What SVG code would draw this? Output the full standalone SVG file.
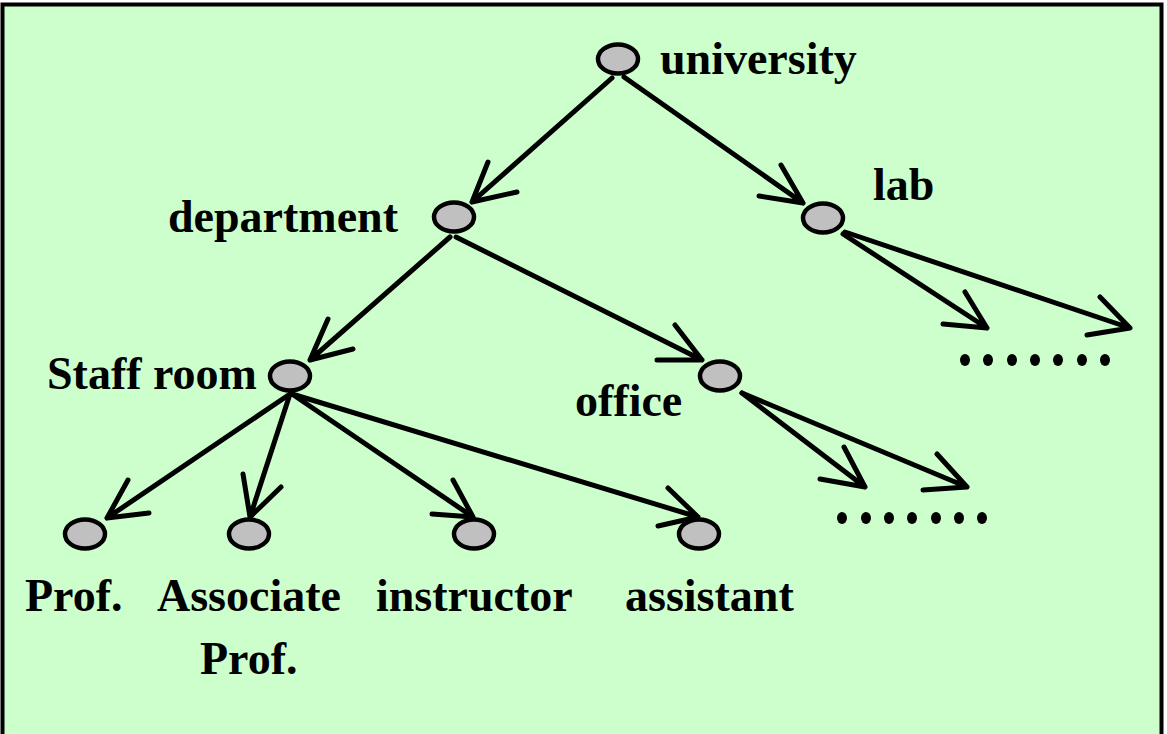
<svg xmlns="http://www.w3.org/2000/svg" width="1167" height="734" viewBox="0 0 1167 734">
<style>
.n{fill:#C0C0C0;stroke:#000;stroke-width:4.5}
.e{fill:none;stroke:#000;stroke-width:5;stroke-linecap:round;stroke-linejoin:round}
.t{font-family:"Liberation Serif","Times New Roman",serif;font-weight:bold;font-size:46px;fill:#000}
.d{fill:#000}
</style>
<rect x="2.5" y="4.5" width="1159" height="740" fill="#CCFFCC" stroke="#000" stroke-width="4"/>
<g id="connectors">
<path class="e" d="M612,78 L472,202 M488,162 L472,202 L517,192"/>
<path class="e" d="M624,77 L803,203 M781,165 L803,203 L759,196"/>
<path class="e" d="M450,237 L310,360 M328,319 L310,360 L353,349"/>
<path class="e" d="M456,237 L702,360 M675,325 L702,360 L657,360"/>
<path class="e" d="M843,234 L987,328 M965,292 L987,328 L943,324"/>
<path class="e" d="M845,232 L1130,328 M1100,297 L1130,328 L1087,335"/>
<path class="e" d="M742,393 L865,487 M844,447 L865,487 L820,479"/>
<path class="e" d="M742,393 L967,487 M937,454 L967,487 L923,490"/>
<path class="e" d="M290,394 L107,518 M128,480 L107,518 L149,513"/>
<path class="e" d="M290,394 L250,517 M243,474 L250,517 L281,487"/>
<path class="e" d="M292,394 L473,517 M453,480 L473,517 L432,514"/>
<path class="e" d="M292,394 L698,517 M668,488 L698,517 L658,526"/>
</g>
<g id="dots1">
<ellipse class="d" cx="965" cy="360" rx="5" ry="6"/><ellipse class="d" cx="988" cy="360" rx="5" ry="6"/><ellipse class="d" cx="1012" cy="360" rx="5" ry="6"/><ellipse class="d" cx="1035" cy="360" rx="5" ry="6"/><ellipse class="d" cx="1058" cy="360" rx="5" ry="6"/><ellipse class="d" cx="1082" cy="360" rx="5" ry="6"/><ellipse class="d" cx="1105" cy="360" rx="5" ry="6"/>
</g>
<g id="dots2">
<ellipse class="d" cx="842" cy="518" rx="5" ry="6"/><ellipse class="d" cx="866" cy="518" rx="5" ry="6"/><ellipse class="d" cx="889" cy="518" rx="5" ry="6"/><ellipse class="d" cx="912" cy="518" rx="5" ry="6"/><ellipse class="d" cx="936" cy="518" rx="5" ry="6"/><ellipse class="d" cx="959" cy="518" rx="5" ry="6"/><ellipse class="d" cx="982" cy="518" rx="5" ry="6"/>
</g>
<g id="university"><ellipse class="n" cx="618" cy="59" rx="20" ry="14.5"/><text class="t" x="660" y="74">university</text></g>
<g id="department"><ellipse class="n" cx="454" cy="217" rx="20" ry="14.5"/><text class="t" x="168" y="232">department</text></g>
<g id="lab"><ellipse class="n" cx="823" cy="218" rx="20" ry="14.5"/><text class="t" x="873" y="200">lab</text></g>
<g id="staffroom"><ellipse class="n" cx="290" cy="376" rx="20" ry="14.5"/><text class="t" x="47" y="389">Staff room</text></g>
<g id="office"><ellipse class="n" cx="720" cy="376" rx="20" ry="14.5"/><text class="t" x="575" y="416">office</text></g>
<g id="prof"><ellipse class="n" cx="85" cy="534" rx="20" ry="14.5"/><text class="t" x="25" y="611">Prof.</text></g>
<g id="associate"><ellipse class="n" cx="249" cy="534" rx="20" ry="14.5"/><text class="t" x="157" y="611">Associate</text><text class="t" x="200" y="674">Prof.</text></g>
<g id="instructor"><ellipse class="n" cx="474" cy="534" rx="20" ry="14.5"/><text class="t" x="376" y="611">instructor</text></g>
<g id="assistant"><ellipse class="n" cx="699" cy="534" rx="20" ry="14.5"/><text class="t" x="625" y="611">assistant</text></g>
</svg>
